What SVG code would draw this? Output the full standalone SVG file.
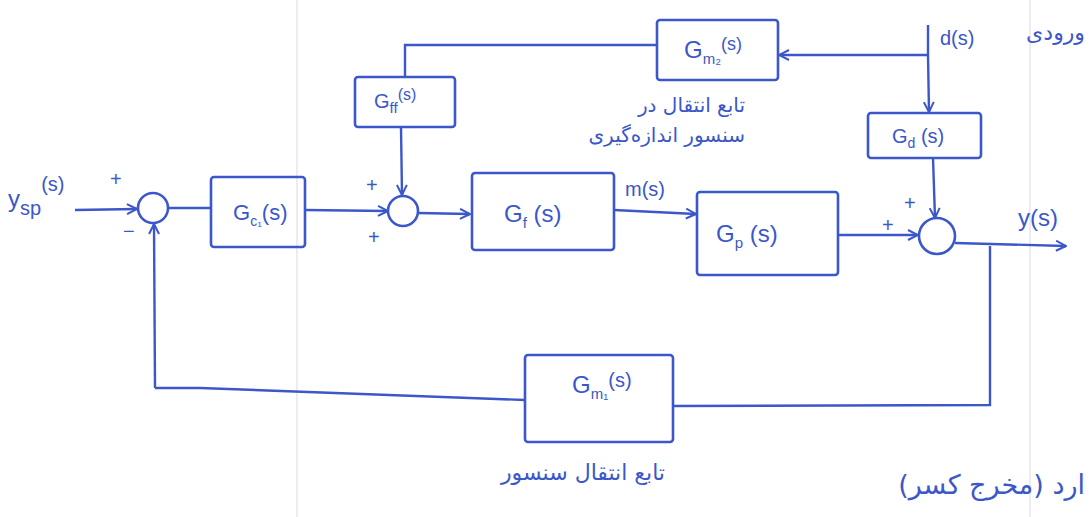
<svg xmlns="http://www.w3.org/2000/svg" width="1089" height="517" viewBox="0 0 1089 517">
<defs>
<marker id="ah" viewBox="0 0 12 12" refX="11" refY="6" markerWidth="12" markerHeight="12" markerUnits="userSpaceOnUse" orient="auto">
<path d="M1,1 L11,6 L1,11" fill="none" stroke="#3b57c9" stroke-width="2"/>
</marker>
<style>
.b{fill:none;stroke:#3b57c9;stroke-width:2.6;stroke-linejoin:round}
.c{fill:#fff;stroke:#3b57c9;stroke-width:2.6}
.l{fill:none;stroke:#3b57c9;stroke-width:2.4;marker-end:url(#ah)}
.n{fill:none;stroke:#3b57c9;stroke-width:2.4}
.t{fill:#3b57c9;font-family:"Liberation Sans",sans-serif;font-size:24px}
.s{fill:#3b57c9;font-family:"Liberation Sans",sans-serif;font-size:20px}
.p{fill:#3b57c9;font-family:"DejaVu Sans",sans-serif;font-size:20px}
.g{stroke:#e6e6ee;stroke-width:1.5}
</style>
</defs>
<rect width="1089" height="517" fill="#fff"/>
<line class="g" x1="297" y1="0" x2="297" y2="517"/>
<line class="g" x1="1030" y1="0" x2="1030" y2="517"/>
<g id="connectors">
<path class="l" d="M75,210 L137,209"/>
<path class="n" d="M168,208 L211,208"/>
<path class="l" d="M305,210 L388,211"/>
<path class="l" d="M401,127 L402,195"/>
<path class="n" d="M405,77 L405,45 L657,45"/>
<path class="l" d="M928,55 L779,55"/>
<path class="n" d="M928,25 L928,55"/>
<path class="l" d="M928,55 L929,112"/>
<path class="l" d="M933,158 L935,218"/>
<path class="l" d="M418,213 L470,214"/>
<path class="l" d="M614,210 L696,214"/>
<path class="l" d="M838,235 L918,235"/>
<path class="l" d="M955,243 L1066,246"/>
<path class="n" d="M990,246 L990,405 L673,406"/>
<path class="n" d="M525,400 L200,388 L155,388"/>
<path class="l" d="M155,388 L154,224"/>
</g>
<g id="sum1"><circle class="c" cx="153" cy="208" r="15"/></g>
<g id="sum2"><circle class="c" cx="403" cy="211" r="15"/></g>
<g id="sum3"><circle class="c" cx="937" cy="236" r="18"/></g>
<g id="Gc1"><rect class="b" x="211" y="177" width="94" height="70" rx="3"/>
<text class="t" x="233" y="220" style="font-size:22px">G<tspan font-size="14" dy="6">c₁</tspan><tspan dy="-6">(s)</tspan></text></g>
<g id="Gff"><rect class="b" x="355" y="77" width="100" height="50" rx="3"/>
<text class="s" x="374" y="108">G<tspan font-size="15" dy="5">ff</tspan><tspan font-size="16" dy="-13">(s)</tspan></text></g>
<g id="Gm2"><rect class="b" x="657" y="20" width="121" height="60" rx="3"/>
<text class="t" x="684" y="58">G<tspan font-size="15" dy="6">m₂</tspan><tspan font-size="18" dy="-14">(s)</tspan></text></g>
<g id="Gd"><rect class="b" x="868" y="113" width="113" height="45" rx="3"/>
<text class="s" x="892" y="143">G<tspan font-size="14" dy="5">d</tspan><tspan dy="-5"> (s)</tspan></text></g>
<g id="Gf"><rect class="b" x="472" y="173" width="142" height="77" rx="3"/>
<text class="t" x="504" y="222">G<tspan font-size="15" dy="6">f</tspan><tspan dy="-6"> (s)</tspan></text></g>
<g id="Gp"><rect class="b" x="697" y="192" width="141" height="83" rx="3"/>
<text class="t" x="716" y="242">G<tspan font-size="15" dy="6">p</tspan><tspan dy="-6"> (s)</tspan></text></g>
<g id="Gm1"><rect class="b" x="525" y="355" width="148" height="87" rx="3"/>
<text class="t" x="572" y="393">G<tspan font-size="15" dy="6">m₁</tspan><tspan font-size="20" dy="-12">(s)</tspan></text></g>
<g id="labels">
<text class="t" x="8" y="207">y<tspan font-size="20" dy="8">sp</tspan><tspan font-size="20" dy="-24">(s)</tspan></text>
<text class="s" x="110" y="186">+</text>
<text class="s" x="123" y="238">−</text>
<text class="s" x="366" y="192">+</text>
<text class="s" x="368" y="244">+</text>
<text class="s" x="904" y="210">+</text>
<text class="s" x="882" y="232">+</text>
<text class="s" x="625" y="196">m(s)</text>
<text class="s" x="940" y="45">d(s)</text>
<text class="t" x="1018" y="226">y(s)</text>
<text class="p" x="745" y="112" text-anchor="start" direction="rtl">تابع انتقال در</text>
<text class="p" x="745" y="142" text-anchor="start" direction="rtl">سنسور اندازه‌گیری</text>
<text class="p" x="665" y="480" text-anchor="start" direction="rtl" style="font-size:22px">تابع انتقال سنسور</text>
<text class="p" x="1085" y="40" text-anchor="start" direction="rtl" style="font-size:22px">ورودی</text>
<text class="p" x="1085" y="494" text-anchor="start" direction="rtl" style="font-size:27px">ارد (مخرج کسر)</text>
</g>
</svg>
